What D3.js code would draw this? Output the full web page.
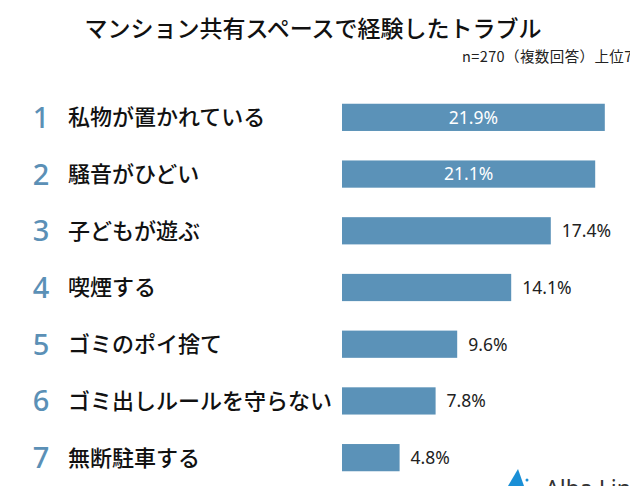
<!DOCTYPE html>
<html lang="ja">
<head>
<meta charset="UTF-8">
<title>マンション共有スペースで経験したトラブル</title>
<script src="https://d3js.org/d3.v7.min.js"></script>
<style>
    body {
        margin: 0;
        background: #fff;
        font-family: "Noto Sans CJK JP", "Noto Sans", sans-serif;
    }
    .title { font-size: 23px; fill: #111; text-anchor: middle; font-weight: 500; }
    .note { font-size: 14.5px; fill: #222; }
    .rank { font-size: 29px; fill: #5b90b6; font-family: "Noto Sans", sans-serif; font-weight: 500; }
    .cat { font-size: 22px; fill: #111; font-weight: 500; }
    .val { font-size: 17.5px; font-family: "Noto Sans", sans-serif; }
</style>
</head>
<body>
<script>
    const width = 630;
    const height = 486;

    // data
    const ranks = [1, 2, 3, 4, 5, 6, 7];
    const categories = ["私物が置かれている", "騒音がひどい", "子どもが遊ぶ", "喫煙する",
                        "ゴミのポイ捨て", "ゴミ出しルールを守らない", "無断駐車する"];
    const values = [21.9, 21.1, 17.4, 14.1, 9.6, 7.8, 4.8];

    const svg = d3.select("body").append("svg")
        .attr("width", width)
        .attr("height", height);

    svg.append("text")
        .attr("class", "title")
        .attr("x", 313)
        .attr("y", 37)
        .text("マンション共有スペースで経験したトラブル");

    svg.append("text")
        .attr("class", "note")
        .attr("x", 462)
        .attr("y", 62)
        .attr("letter-spacing", "0.4px")
        .text("n=270（複数回答）上位7位");

    // 12px per percent, bars start at x=342
    const x = d3.scaleLinear().domain([0, 10]).range([342, 462]);
    const y = d3.scaleBand().domain(ranks).range([89, 486]).paddingInner(0.52).paddingOuter(0.26);

    const rows = svg.selectAll("g.row")
        .data(ranks)
        .enter().append("g")
        .attr("class", "row");

    rows.append("rect")
        .attr("x", x(0))
        .attr("y", d => y(d))
        .attr("width", (d, i) => x(values[i]) - x(0))
        .attr("height", y.bandwidth())
        .attr("fill", "#5b92b8");

    rows.append("text")
        .attr("class", "rank")
        .attr("x", 41)
        .attr("y", d => y(d) + y.bandwidth() / 2)
        .attr("dy", "0.36em")
        .attr("text-anchor", "middle")
        .text(d => d);

    rows.append("text")
        .attr("class", "cat")
        .attr("x", 68)
        .attr("y", d => y(d) + y.bandwidth() / 2)
        .attr("dy", "0.36em")
        .text((d, i) => categories[i]);

    // labels: inside (white) for the two big bars, outside otherwise
    rows.append("text")
        .attr("class", "val")
        .attr("x", (d, i) => values[i] > 20 ? (x(0) + x(values[i])) / 2 : x(values[i]) + 11)
        .attr("y", d => y(d) + y.bandwidth() / 2)
        .attr("dy", "0.36em")
        .attr("text-anchor", (d, i) => values[i] > 20 ? "middle" : "start")
        .attr("fill", (d, i) => values[i] > 20 ? "#fff" : "#222")
        .text((d, i) => values[i].toFixed(1) + "%");

    // logo, cut by the bottom edge
    svg.append("path")
        .attr("d", "M518,469 L508,486 L524,486 Z")
        .attr("fill", "#1a8fd6");
    svg.append("circle")
        .attr("cx", 527).attr("cy", 480).attr("r", 1.5)
        .attr("fill", "#1a8fd6");
    svg.append("text")
        .attr("x", 545)
        .attr("y", 497)
        .attr("font-size", 23)
        .attr("font-family", "Noto Sans, sans-serif")
        .attr("fill", "#333")
        .text("Alba Link");
</script>
</body>
</html>
